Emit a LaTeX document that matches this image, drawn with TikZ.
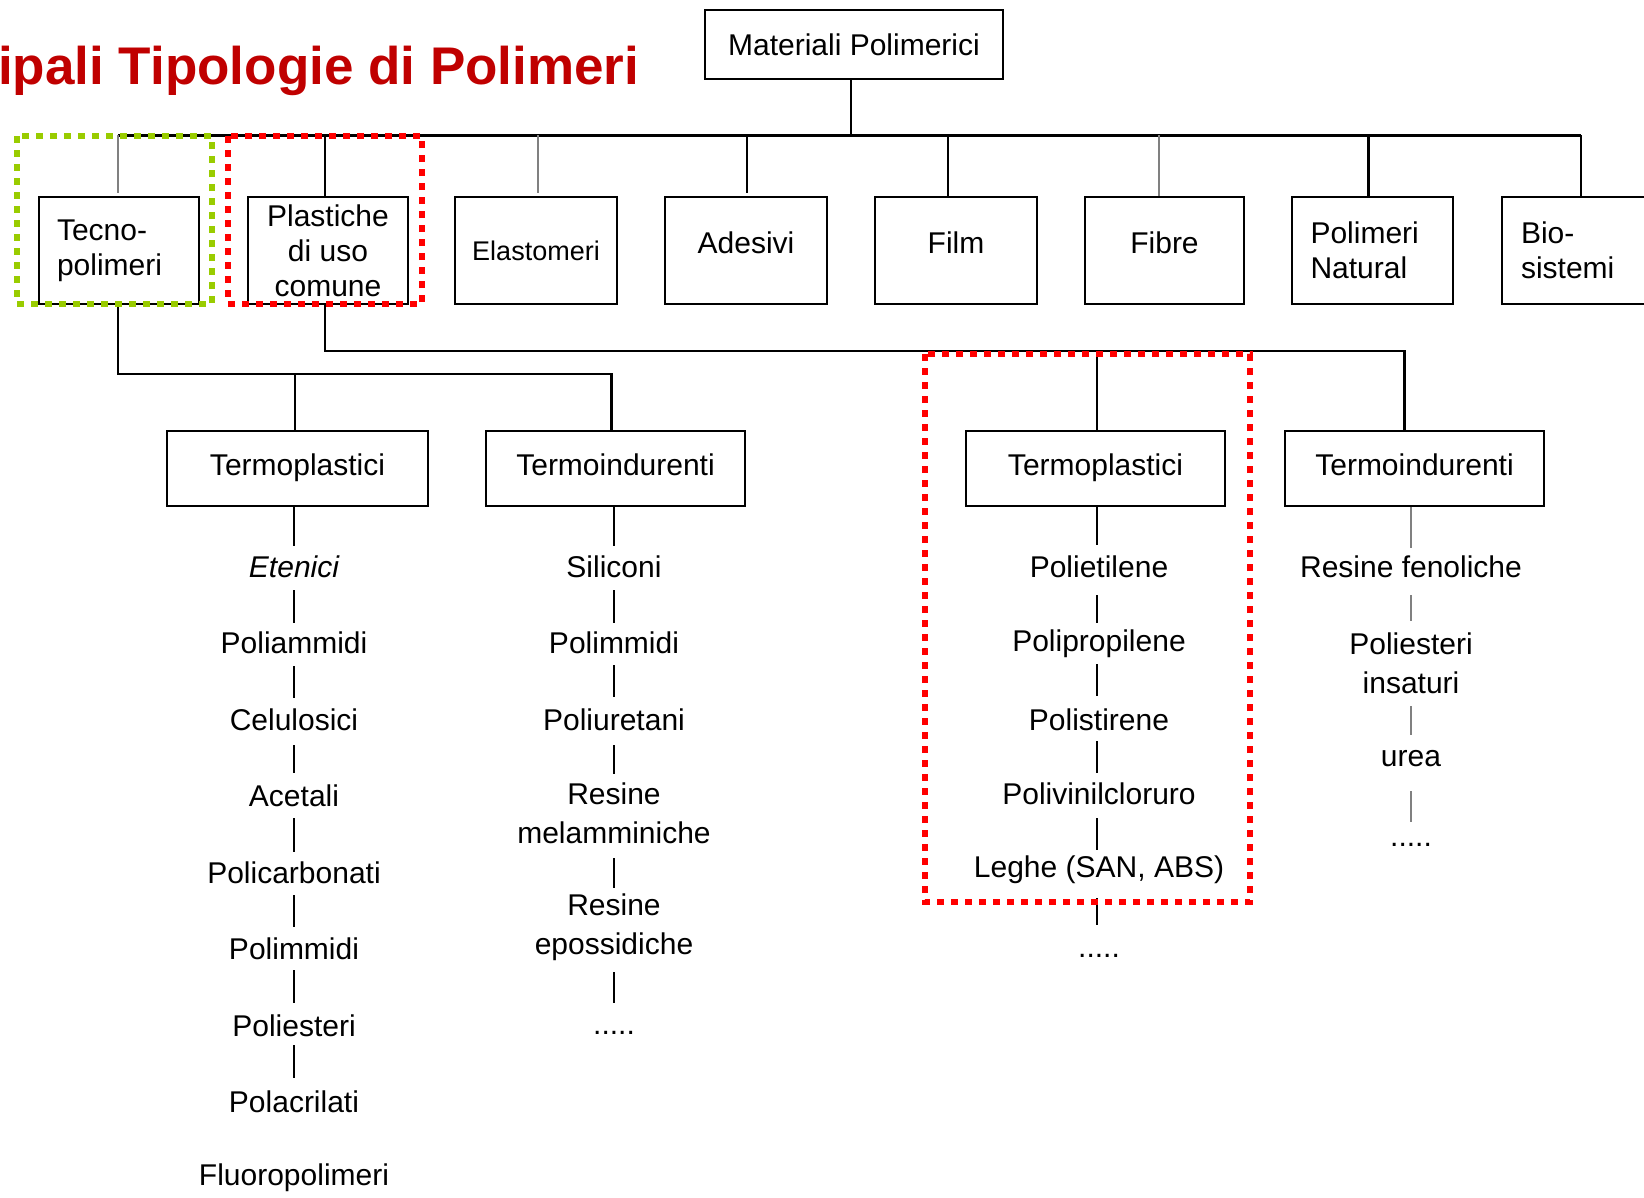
\documentclass[tikz,border=0pt]{standalone}
\usepackage{fontspec}
\setmainfont{Liberation Sans}
\definecolor{titlered}{RGB}{192,0,0}
\definecolor{frameGreen}{RGB}{153,204,0}
\definecolor{frameRed}{RGB}{255,0,0}
\begin{document}
\begin{tikzpicture}[x=1pt,y=-1pt,
  box/.style={draw=black, line width=2.8pt, rectangle, inner sep=0pt,
    font=\fontsize{30}{35}\selectfont, align=center},
  topbox/.style={box, minimum height=107pt, minimum width=160pt},
  midbox/.style={box, minimum height=75pt, minimum width=259pt, text height=22pt, text depth=8pt},
  lefttext/.style={text width=124pt, align=left},
  up/.style={text depth=16pt},
  item/.style={inner sep=0pt, font=\fontsize{30}{39}\selectfont, align=center},
  conn/.style={draw=black, line width=2.5pt},
  gconn/.style={draw=black!50, line width=2pt},
  bus/.style={draw=black, line width=3pt},
  reddot/.style={draw=frameRed, line width=6pt, dash pattern=on 7pt off 7pt},
  greendot/.style={draw=frameGreen, line width=6pt, dash pattern=on 7pt off 7pt},
]
\useasboundingbox (0,0) rectangle (1644,1197);
\clip (0,0) rectangle (1644,1197);
\fill[white] (0,0) rectangle (1644,1197);

% title
\node[anchor=base west, inner sep=0pt, text=titlered,
  font=\bfseries\fontsize{53}{60}\selectfont] (title) at (-2,84) {ipali Tipologie di Polimeri};

% root
\node[box, minimum width=298pt, minimum height=69pt] (root) at (854,44.5) {Materiali Polimerici};

% first level
\node[topbox, lefttext] (tecno) at (119,250.5) {Tecno-\\polimeri};
\node[topbox] (plast) at (328,250.5) {Plastiche\\di uso\\comune};
\node[topbox, minimum width=162pt, font=\fontsize{27}{32}\selectfont] (elast) at (536,250.5) {Elastomeri};
\node[topbox, minimum width=162pt, up] (ades) at (746,250.5) {Adesivi};
\node[topbox, minimum width=162pt, up] (film) at (956,250.5) {Film};
\node[topbox, minimum width=159pt, up] (fibre) at (1164.5,250.5) {Fibre};
\node[topbox, minimum width=161pt, lefttext] (polnat) at (1372.5,250.5) {Polimeri\\Natural};
\node[topbox, minimum width=162pt, lefttext] (bio) at (1583,250.5) {Bio-\\sistemi};

% bus
\coordinate (busT) at (0,135);
\draw[conn] ([xshift=-3pt]root.south) -- ([xshift=-3pt]root.south |- busT);
\draw[bus] ([xshift=-1pt]tecno.north |- busT) -- ([xshift=-2pt]bio.north |- busT);
\draw[gconn] ([xshift=-1pt]tecno.north |- busT) -- ([xshift=-1pt,yshift=3pt]tecno.north);
\draw[conn] ([xshift=-3pt]plast.north |- busT) -- ([xshift=-3pt]plast.north);
\draw[gconn] ([xshift=2pt]elast.north |- busT) -- ([xshift=2pt,yshift=3pt]elast.north);
\draw[conn] ([xshift=1pt]ades.north |- busT) -- ([xshift=1pt,yshift=3pt]ades.north);
\draw[conn] ([xshift=-8pt]film.north |- busT) -- ([xshift=-8pt]film.north);
\draw[gconn] ([xshift=-6pt]fibre.north |- busT) -- ([xshift=-6pt]fibre.north);
\draw[conn] ([xshift=-4pt]polnat.north |- busT) -- ([xshift=-4pt]polnat.north);
\draw[conn] ([xshift=-2pt]bio.north |- busT) -- ([xshift=-2pt]bio.north);

% second level boxes
\node[midbox, minimum width=261pt] (tp1) at (297.5,468.5) {Termoplastici};
\node[midbox] (ti1) at (615.5,468.5) {Termoindurenti};
\node[midbox] (tp3) at (1095.5,468.5) {Termoplastici};
\node[midbox] (ti2) at (1414.5,468.5) {Termoindurenti};

\coordinate (busA) at (0,374);
\coordinate (busB) at (0,351);
\draw[conn] ([xshift=-1pt]tecno.south) -- ([xshift=-1pt]tecno.south |- busA)
  -- ([xshift=-4pt]ti1.north |- busA) -- ([xshift=-4pt]ti1.north);
\draw[conn] ([xshift=-2.5pt]tp1.north |- busA) -- ([xshift=-2.5pt]tp1.north);
\draw[conn] ([xshift=-3pt]plast.south) -- ([xshift=-3pt]plast.south |- busB)
  -- ([xshift=-10pt]ti2.north |- busB) -- ([xshift=-10pt]ti2.north);
\draw[conn] ([xshift=1.5pt]tp3.north |- busB) -- ([xshift=1.5pt]tp3.north);

% column 1
\node[item, font=\itshape\fontsize{30}{39}\selectfont] (e1) at (294,567) {Etenici};
\node[item] (e2) at (294,643) {Poliammidi};
\node[item] (e3) at (294,720) {Celulosici};
\node[item] (e4) at (294,796) {Acetali};
\node[item] (e5) at (294,873) {Policarbonati};
\node[item] (e6) at (294,949) {Polimmidi};
\node[item] (e7) at (294,1026) {Poliesteri};
\node[item] (e8) at (294,1102) {Polacrilati};
\node[item] (e9) at (294,1178) {Fluoropolimeri};
\draw[conn] (tp1.south -| e1.center) -- ([yshift=21pt]e1.center);
\draw[conn] ([yshift=-23pt]e1.center) -- ([yshift=20pt]e2.center);
\draw[conn] ([yshift=-23pt]e2.center) -- ([yshift=22pt]e3.center);
\draw[conn] ([yshift=-25pt]e3.center) -- ([yshift=23pt]e4.center);
\draw[conn] ([yshift=-22pt]e4.center) -- ([yshift=21pt]e5.center);
\draw[conn] ([yshift=-22pt]e5.center) -- ([yshift=22pt]e6.center);
\draw[conn] ([yshift=-21pt]e6.center) -- ([yshift=23pt]e7.center);
\draw[conn] ([yshift=-19pt]e7.center) -- ([yshift=24pt]e8.center);

% column 2
\node[item] (s1) at (614,567) {Siliconi};
\node[item] (s2) at (614,643) {Polimmidi};
\node[item] (s3) at (614,720) {Poliuretani};
\node[item] (s4) at (614,813.5) {Resine\\melamminiche};
\node[item] (s5) at (614,927.5) {Resine\\epossidiche};
\node[item, anchor=base] (s6) at (614,1034) {.....};
\draw[conn] (ti1.south -| s1.center) -- ([yshift=21pt]s1.center);
\draw[conn] ([yshift=-23pt]s1.center) -- ([yshift=20pt]s2.center);
\draw[conn] ([yshift=-22pt]s2.center) -- ([yshift=23pt]s3.center);
\draw[conn] ([yshift=-25pt]s3.center) -- ([yshift=40pt]s4.center);
\draw[conn] ([yshift=-44.5pt]s4.center) -- ([yshift=39.5pt]s5.center);
\draw[conn] ([yshift=-44.5pt]s5.center) -- ([yshift=31pt]s6.base);

% column 3
\node[item] (p1) at (1099,567) {Polietilene};
\node[item] (p2) at (1099,644) {Polipropilene};
\node[item] (p3) at (1099,720) {Polistirene};
\node[item] (p4) at (1099,794) {Polivinilcloruro};
\node[item] (p5) at (1099,870) {Leghe (SAN, ABS)};
\node[item, anchor=base] (p6) at (1099,957) {.....};
\draw[conn] ([xshift=-2pt]tp3.south -| p1.center) -- ([xshift=-2pt,yshift=22pt]p1.center);
\draw[conn] ([xshift=-2pt,yshift=-28pt]p1.center) -- ([xshift=-2pt,yshift=21pt]p2.center);
\draw[conn] ([xshift=-2pt,yshift=-20pt]p2.center) -- ([xshift=-2pt,yshift=24pt]p3.center);
\draw[conn] ([xshift=-2pt,yshift=-21pt]p3.center) -- ([xshift=-2pt,yshift=21pt]p4.center);
\draw[conn] ([xshift=-2pt,yshift=-24pt]p4.center) -- ([xshift=-2pt,yshift=20pt]p5.center);
\draw[conn] ([xshift=-2pt,yshift=-28pt]p5.center) -- ([xshift=-2pt,yshift=32pt]p6.base);

% column 4
\node[item] (r1) at (1411,567) {Resine fenoliche};
\node[item] (r2) at (1411,663) {Poliesteri\\insaturi};
\node[item] (r3) at (1411,759) {urea};
\node[item, anchor=base] (r4) at (1411,846) {.....};
\draw[gconn] (ti2.south -| r1.center) -- ([yshift=19pt]r1.center);
\draw[gconn] ([yshift=-28pt]r1.center) -- ([yshift=42pt]r2.center);
\draw[gconn] ([yshift=-43pt]r2.center) -- ([yshift=24pt]r3.center);
\draw[gconn] ([yshift=-32pt]r3.center) -- ([yshift=24pt]r4.base);

% highlight frames
\draw[greendot] (17,136) rectangle (212,304);
\draw[reddot] (228,136) rectangle (422,304);
\draw[reddot] (925,354) rectangle (1250,902);
\end{tikzpicture}
\end{document}
